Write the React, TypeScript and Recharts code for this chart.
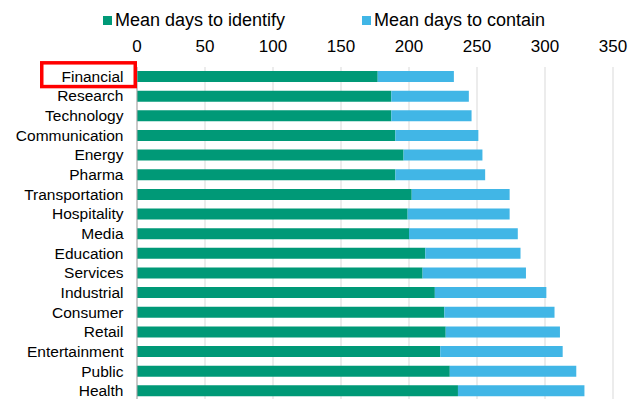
import React from "react";
import { BarChart, Bar, XAxis, YAxis, CartesianGrid, Legend } from "recharts";

// Industries, top to bottom
const industries = [
  "Financial",
  "Research",
  "Technology",
  "Communication",
  "Energy",
  "Pharma",
  "Transportation",
  "Hospitality",
  "Media",
  "Education",
  "Services",
  "Industrial",
  "Consumer",
  "Retail",
  "Entertainment",
  "Public",
  "Health",
];

// Mean days to identify a breach
const daysToIdentify = [177, 187, 187, 190, 196, 190, 202, 199, 200, 212, 210, 219, 226, 227, 223, 230, 236];

// Mean days to contain a breach
const daysToContain = [56, 57, 59, 61, 58, 66, 72, 75, 80, 70, 76, 82, 81, 84, 90, 93, 93];

const xTicks = [0, 50, 100, 150, 200, 250, 300, 350];

const seriesNames = ["Mean days to identify", "Mean days to contain"];
const seriesColors = ["#009977", "#41B6E6"];

// Industry outlined with a red box
const highlighted = "Financial";

const data = industries.map((name, i) => ({
  name,
  identify: daysToIdentify[i],
  contain: daysToContain[i],
}));

const FONT = '"Liberation Sans", Arial, sans-serif';

const CategoryTick = (props: any) => {
  const { x, y, payload } = props;
  const isHighlighted = payload.value === highlighted;
  return (
    <g>
      {isHighlighted && (
        <rect
          x={x - 81.75}
          y={y - 14}
          width={93.5}
          height={23.75}
          fill="none"
          stroke="#FF0000"
          strokeWidth={3.5}
        />
      )}
      <text
        x={x}
        y={y}
        dy={5}
        textAnchor="end"
        fill="#000"
        fontSize={15.5}
        fontFamily={FONT}
      >
        {payload.value}
      </text>
    </g>
  );
};

const LegendContent = () => (
  <div style={{ position: "relative", height: 24, width: 633, fontFamily: FONT }}>
    {seriesNames.map((label, i) => (
      <div
        key={label}
        style={{
          position: "absolute",
          left: i === 0 ? 95 : 354,
          top: 0,
          height: 24,
          display: "flex",
          alignItems: "center",
          whiteSpace: "nowrap",
        }}
      >
        <span
          style={{
            display: "inline-block",
            width: 9,
            height: 9,
            background: seriesColors[i],
            marginRight: 3,
          }}
        />
        <span style={{ fontSize: 18, color: "#000" }}>{label}</span>
      </div>
    ))}
  </div>
);

export default function App() {
  return (
    <div style={{ fontFamily: FONT }}>
      <BarChart
        width={633}
        height={393}
        data={data}
        layout="vertical"
        margin={{ top: 15, right: 28, bottom: 0, left: 0 }}
        barSize={11}
      >
        <Legend
          verticalAlign="top"
          align="left"
          content={<LegendContent />}
          wrapperStyle={{ top: 0, left: 0, width: 633, height: 24 }}
        />
        <CartesianGrid horizontal={false} vertical={true} stroke="#D9D9D9" strokeWidth={1} />
        <XAxis
          type="number"
          orientation="top"
          domain={[0, 350]}
          ticks={xTicks}
          axisLine={false}
          tickLine={false}
          tickSize={0}
          tickMargin={15}
          height={20}
          tick={{ fill: "#000", fontSize: 17, fontFamily: FONT }}
          interval={0}
        />
        <YAxis
          type="category"
          dataKey="name"
          width={129}
          interval={0}
          tickLine={false}
          tickSize={0}
          tickMargin={13.5}
          axisLine={{ stroke: "#A6A6A6", strokeWidth: 1 }}
          tick={<CategoryTick />}
        />
        <Bar
          dataKey="identify"
          name={seriesNames[0]}
          stackId="days"
          fill={seriesColors[0]}
          isAnimationActive={false}
        />
        <Bar
          dataKey="contain"
          name={seriesNames[1]}
          stackId="days"
          fill={seriesColors[1]}
          isAnimationActive={false}
        />
      </BarChart>
    </div>
  );
}
